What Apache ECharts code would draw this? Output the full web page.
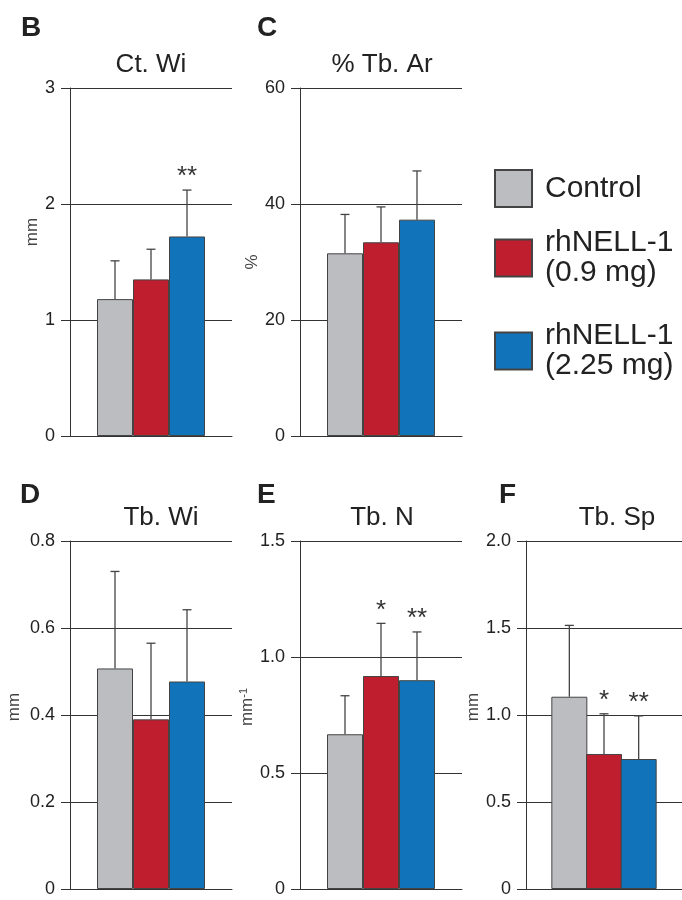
<!DOCTYPE html>
<html>
<head>
<meta charset="utf-8">
<script src="https://cdn.jsdelivr.net/npm/echarts@6/dist/echarts.min.js"></script>
<style>
html, body { margin: 0; padding: 0; background: #fff; }
#chart { width: 682px; height: 900px; }
</style>
</head>
<body>
<div id="chart"></div>
<script>
// groups + colours
var groups = ['Control', 'rhNELL-1\n(0.9 mg)', 'rhNELL-1\n(2.25 mg)'];
var groupColors = ['#bcbdc1', '#be1e2d', '#1174ba'];
var xPos = [1, 2, 3];

// B  Ct. Wi (mm)
var ctWiMean  = [1.18, 1.35, 1.72];
var ctWiUpper = [1.51, 1.61, 2.12];
var ctWiStars = ['', '', '**'];
// C  % Tb. Ar
var tbArMean  = [31.5, 33.4, 37.3];
var tbArUpper = [38.2, 39.5, 45.7];
var tbArStars = ['', '', ''];
// D  Tb. Wi (mm)
var tbWiMean  = [0.507, 0.39, 0.477];
var tbWiUpper = [0.73, 0.565, 0.642];
var tbWiStars = ['', '', ''];
// E  Tb. N (mm-1)
var tbNMean  = [0.667, 0.918, 0.90];
var tbNUpper = [0.833, 1.145, 1.108];
var tbNStars = ['', '*', '**'];
// F  Tb. Sp (mm)
var tbSpMean  = [1.105, 0.776, 0.747];
var tbSpUpper = [1.515, 1.007, 0.995];
var tbSpStars = ['', '*', '**'];

var panelLetters = ['B', 'C', 'D', 'E', 'F'];
var panelTitles = ['Ct. Wi', '% Tb. Ar', 'Tb. Wi', 'Tb. N', 'Tb. Sp'];
var yMax = [3, 60, 0.8, 1.5, 2.0];
var yInterval = [1, 20, 0.2, 0.5, 0.5];
var yUnits = ['mm', '%', 'mm', 'mm{sup|-1}', 'mm'];
var yDecimals = [0, 0, 1, 1, 1];

var means = [ctWiMean, tbArMean, tbWiMean, tbNMean, tbSpMean];
var uppers = [ctWiUpper, tbArUpper, tbWiUpper, tbNUpper, tbSpUpper];
var stars = [ctWiStars, tbArStars, tbWiStars, tbNStars, tbSpStars];

// layout of the panels
var gridBox = [
  { left: 70, top: 88, width: 162, height: 348 },
  { left: 300, top: 88, width: 162, height: 348 },
  { left: 70, top: 541, width: 162, height: 348 },
  { left: 300, top: 541, width: 162, height: 348 },
  { left: 526, top: 541, width: 162, height: 348 }
];
var letterPos = [[21, 14], [257, 14], [20, 481], [257, 481], [499, 481]];
var titlePos = [[151, 52], [382, 52], [161, 505], [382, 505], [617, 505]];
var nameGaps = [28, 37, 47, 39, 39];
var namePads = [[0, 0, 0, 60], [0, 0, 0, 0], [0, 0, 0, 16], [0, 0, 0, 16], [0, 0, 0, 16]];

var FONT = 'Liberation Sans, Arial, sans-serif';
var LINE = '#333';

var chart = echarts.init(document.getElementById('chart'));

var titles = [], grids = [], xAxes = [], yAxes = [], series = [];

for (var p = 0; p < 5; p++) {
  titles.push({
    text: panelLetters[p], left: letterPos[p][0], top: letterPos[p][1], padding: 0,
    textStyle: { fontFamily: FONT, fontSize: 28, fontWeight: 'bold', color: '#222' }
  });
  titles.push({
    text: panelTitles[p], left: titlePos[p][0], top: titlePos[p][1], padding: 0, textAlign: 'center',
    textStyle: { fontFamily: FONT, fontSize: 26, fontWeight: 'normal', color: '#222' }
  });
  grids.push(gridBox[p]);
  xAxes.push({
    gridIndex: p, type: 'value', min: -0.25, max: 4.25,
    axisLine: { show: true, onZero: false, lineStyle: { color: LINE, width: 1 } },
    axisTick: { show: false }, axisLabel: { show: false }, splitLine: { show: false }
  });
  (function (p) {
    yAxes.push({
      gridIndex: p, type: 'value', min: 0, max: yMax[p], interval: yInterval[p],
      name: yUnits[p], nameLocation: 'middle', nameGap: nameGaps[p],
      nameTextStyle: {
        fontFamily: FONT, fontSize: 17, color: '#444', padding: namePads[p],
        rich: { sup: { fontFamily: FONT, fontSize: 11, color: '#444', verticalAlign: 'top', padding: [0, 0, 8, 0] } }
      },
      axisLine: { show: true, onZero: false, lineStyle: { color: LINE, width: 1 } },
      axisTick: { show: true, inside: false, length: 9, lineStyle: { color: LINE } },
      axisLabel: {
        margin: 15, fontFamily: FONT, fontSize: 18, color: '#222',
        formatter: function (v) { return v === 0 ? '0' : v.toFixed(yDecimals[p]); }
      },
      splitLine: { show: true, lineStyle: { color: LINE, width: 1 } }
    });
  })(p);

  for (var g = 0; g < 3; g++) {
    series.push({
      name: groups[g], type: 'bar', xAxisIndex: p, yAxisIndex: p,
      barWidth: 36, barGap: '-100%',
      itemStyle: { color: groupColors[g], borderColor: '#444', borderWidth: 1 },
      data: [[xPos[g], means[p][g]]],
      z: 3
    });
  }

  var errData = [];
  for (var k = 0; k < 3; k++) errData.push([xPos[k], means[p][k], uppers[p][k], stars[p][k]]);
  series.push({
    type: 'custom', xAxisIndex: p, yAxisIndex: p, z: 4,
    data: errData,
    renderItem: function (params, api) {
      var x = api.value(0);
      var base = api.coord([x, api.value(1)]);
      var top = api.coord([x, api.value(2)]);
      var star = api.value(3) || '';
      var children = [
        { type: 'line', shape: { x1: base[0], y1: base[1], x2: top[0], y2: top[1] }, style: { stroke: '#444', lineWidth: 1.3 } },
        { type: 'line', shape: { x1: top[0] - 4.5, y1: top[1], x2: top[0] + 4.5, y2: top[1] }, style: { stroke: '#444', lineWidth: 1.3 } }
      ];
      if (star) {
        children.push({
          type: 'text', x: top[0], y: top[1] - 13,
          style: { text: star, fontFamily: FONT, fontSize: 26, fill: '#333', align: 'center', verticalAlign: 'middle' }
        });
      }
      return { type: 'group', children: children };
    }
  });
}

var legendTops = [169, 228, 321];
var legends = [];
for (var i = 0; i < 3; i++) {
  legends.push({
    data: [groups[i]], orient: 'vertical', left: 494, top: legendTops[i], padding: 0,
    itemWidth: 37, itemHeight: 37, itemGap: 13, icon: 'rect', selectedMode: false,
    textStyle: { fontFamily: FONT, fontSize: 30, lineHeight: 30, color: '#222', padding: [0, 0, 0, 8] }
  });
}

var option = {
  backgroundColor: '#fff',
  animation: false,
  title: titles,
  legend: legends,
  grid: grids,
  xAxis: xAxes,
  yAxis: yAxes,
  series: series
};
chart.setOption(option);
</script>
</body>
</html>
